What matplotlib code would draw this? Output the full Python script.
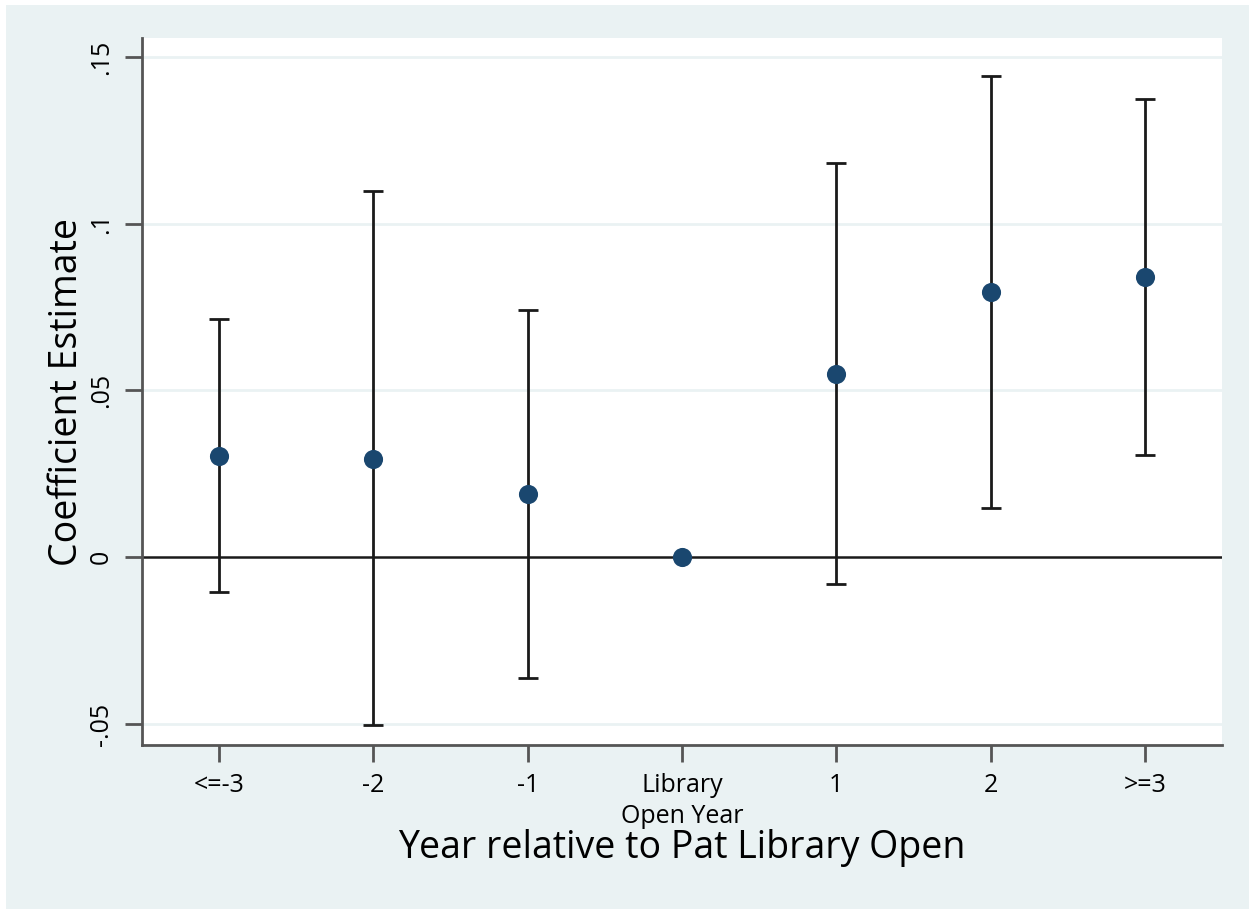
import numpy as np
import matplotlib.pyplot as plt
from matplotlib.patches import Rectangle

# event-study coefficients
labels = ['<=-3', '-2', '-1', 'Library\nOpen Year', '1', '2', '>=3']
coef = [0.0303, 0.0294, 0.0189, 0.0, 0.0549, 0.0795, 0.0840]
ci_low = [-0.0105, -0.0504, -0.0363, 0.0, -0.0081, 0.0147, 0.0306]
ci_high = [0.0714, 0.1098, 0.0741, 0.0, 0.1182, 0.1443, 0.1374]
yticks = [-0.05, 0, 0.05, 0.1, 0.15]
ytick_labels = ['-.05', '0', '.05', '.1', '.15']

plt.rcParams['font.family'] = ['Open Sans', 'DejaVu Sans']

bg = '#EAF2F3'
fig = plt.figure(figsize=(12.49, 9.09), dpi=100, facecolor='white')
fig.patches.append(Rectangle((6 / 1249, 0), 1, 1 - 5 / 909, transform=fig.transFigure,
                             facecolor=bg, edgecolor='none', zorder=-10))
ax = fig.add_axes([142 / 1249, 1 - 745 / 909, 1080 / 1249, 707 / 909])
ax.set_facecolor('white')

x = np.arange(len(labels))
coef = np.array(coef)
has_ci = np.array(ci_high) != np.array(ci_low)
yerr = np.vstack([coef - np.array(ci_low), np.array(ci_high) - coef])

for yv in [-0.05, 0.05, 0.1, 0.15]:
    ax.axhline(yv, color=bg, lw=2, zorder=0)
ax.axhline(0, color='#1a1a1a', lw=1.8, zorder=1)

ax.errorbar(x[has_ci], coef[has_ci], yerr=yerr[:, has_ci], fmt='none',
            ecolor='#1a1a1a', elinewidth=2, capsize=7.5, capthick=2, zorder=2)
ax.scatter(x, coef, s=190, color='#1A476F', zorder=3, linewidths=0)

ax.set_xlim(-0.5, 6.5)
ax.set_ylim(-0.0563, 0.1557)
ax.set_xticks(x)
ax.set_xticklabels(labels, fontsize=18, linespacing=1.35)
ax.set_yticks(yticks)
ax.set_yticklabels(ytick_labels, fontsize=18, rotation=90, va='center')

for side in ['top', 'right']:
    ax.spines[side].set_visible(False)
for side in ['left', 'bottom']:
    ax.spines[side].set_color('#555555')
    ax.spines[side].set_linewidth(2)
ax.tick_params(axis='both', length=12, width=2, color='#555555', pad=8)

ax.set_xlabel('Year relative to Pat Library Open', fontsize=27, labelpad=0)
ax.set_ylabel('Coefficient Estimate', fontsize=27, labelpad=2)

fig.savefig('out.png', dpi=100, facecolor='white')
